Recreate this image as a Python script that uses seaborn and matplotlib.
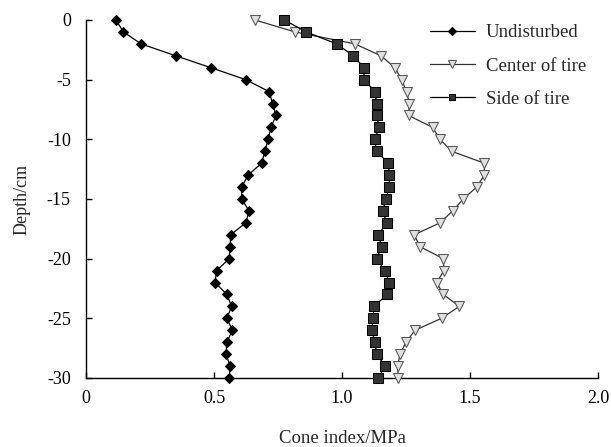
import matplotlib
matplotlib.use("Agg")
import matplotlib.pyplot as plt
import seaborn as sns
import pandas as pd

depth = [0, -1, -2, -3, -4, -5, -6, -7, -8, -9, -10, -11, -12, -13, -14, -15,
         -16, -17, -18, -19, -20, -21, -22, -23, -24, -25, -26, -27, -28, -29, -30]

undisturbed = [0.117, 0.146, 0.215, 0.35, 0.488, 0.624, 0.715, 0.729, 0.742, 0.723, 0.711,
               0.699, 0.686, 0.633, 0.608, 0.608, 0.637, 0.624, 0.565, 0.563, 0.56,
               0.51, 0.504, 0.55, 0.569, 0.55, 0.572, 0.55, 0.547, 0.5625, 0.56]

center_tire = [0.66, 0.816, 1.05, 1.152, 1.207, 1.233, 1.252, 1.263, 1.26, 1.354, 1.383,
               1.428, 1.556, 1.556, 1.526, 1.474, 1.432, 1.383, 1.282, 1.305, 1.396,
               1.398, 1.37, 1.396, 1.458, 1.389, 1.285, 1.25, 1.227, 1.217, 1.22]

side_tire = [0.775, 0.859, 0.979, 1.044, 1.086, 1.086, 1.129, 1.135, 1.135, 1.146, 1.127,
             1.135, 1.181, 1.185, 1.185, 1.172, 1.159, 1.174, 1.142, 1.155, 1.135,
             1.168, 1.185, 1.177, 1.125, 1.122, 1.116, 1.129, 1.135, 1.168, 1.142]

series_names = ["Undisturbed", "Center of tire", "Side of tire"]
x_ticks = [0, 0.5, 1.0, 1.5, 2.0]
x_tick_labels = ["0", "0.5", "1.0", "1.5", "2.0"]
y_ticks = [0, -5, -10, -15, -20, -25, -30]

sns.set_theme(style="ticks")
plt.rcParams['font.family'] = ['Liberation Serif', 'DejaVu Serif']
plt.rcParams['axes.unicode_minus'] = False

fig = plt.figure(figsize=(6.11, 4.47), dpi=100)
ax = fig.add_axes([0.1408, 0.1544, 0.8379, 0.8009])

styles = [
    dict(color="black", marker="D", markersize=5, markerfacecolor="black",
         markeredgecolor="black", linewidth=0.9),
    dict(color="#333333", marker="v", markersize=7, markerfacecolor="#e0e0e0",
         markeredgecolor="#555555", linewidth=0.9),
    dict(color="black", marker="s", markersize=6.5, markerfacecolor="#333333",
         markeredgecolor="black", linewidth=0.9),
]

for name, vals, st in zip(series_names, [undisturbed, center_tire, side_tire], styles):
    df = pd.DataFrame({"ci": vals, "depth": depth})
    sns.lineplot(data=df, x="ci", y="depth", sort=False, estimator=None, ax=ax,
                 label=name, clip_on=False, zorder=3, **st)

ax.set_xlim(0, 2.0)
ax.set_ylim(-30, 0)
ax.set_xticks(x_ticks)
ax.set_xticklabels(x_tick_labels)
ax.set_yticks(y_ticks)
ax.tick_params(direction="in", length=4, width=1, labelsize=13, colors="black")
ax.tick_params(axis="x", pad=9)
ax.tick_params(axis="y", pad=11)
for s in ["top", "right"]:
    ax.spines[s].set_visible(False)
for s in ["left", "bottom"]:
    ax.spines[s].set_color("black")
    ax.spines[s].set_linewidth(1)

ax.set_xlabel("Cone index/MPa", fontsize=13.5, labelpad=16)
ax.set_ylabel("Depth/cm", fontsize=13, labelpad=12)

leg = ax.legend(loc="upper right", frameon=False, fontsize=13.5, handlelength=2.4,
                markerscale=0.75, labelspacing=0.85, handletextpad=0.6,
                bbox_to_anchor=(1.01, 1.035))

fig.savefig("out.png", dpi=100)
